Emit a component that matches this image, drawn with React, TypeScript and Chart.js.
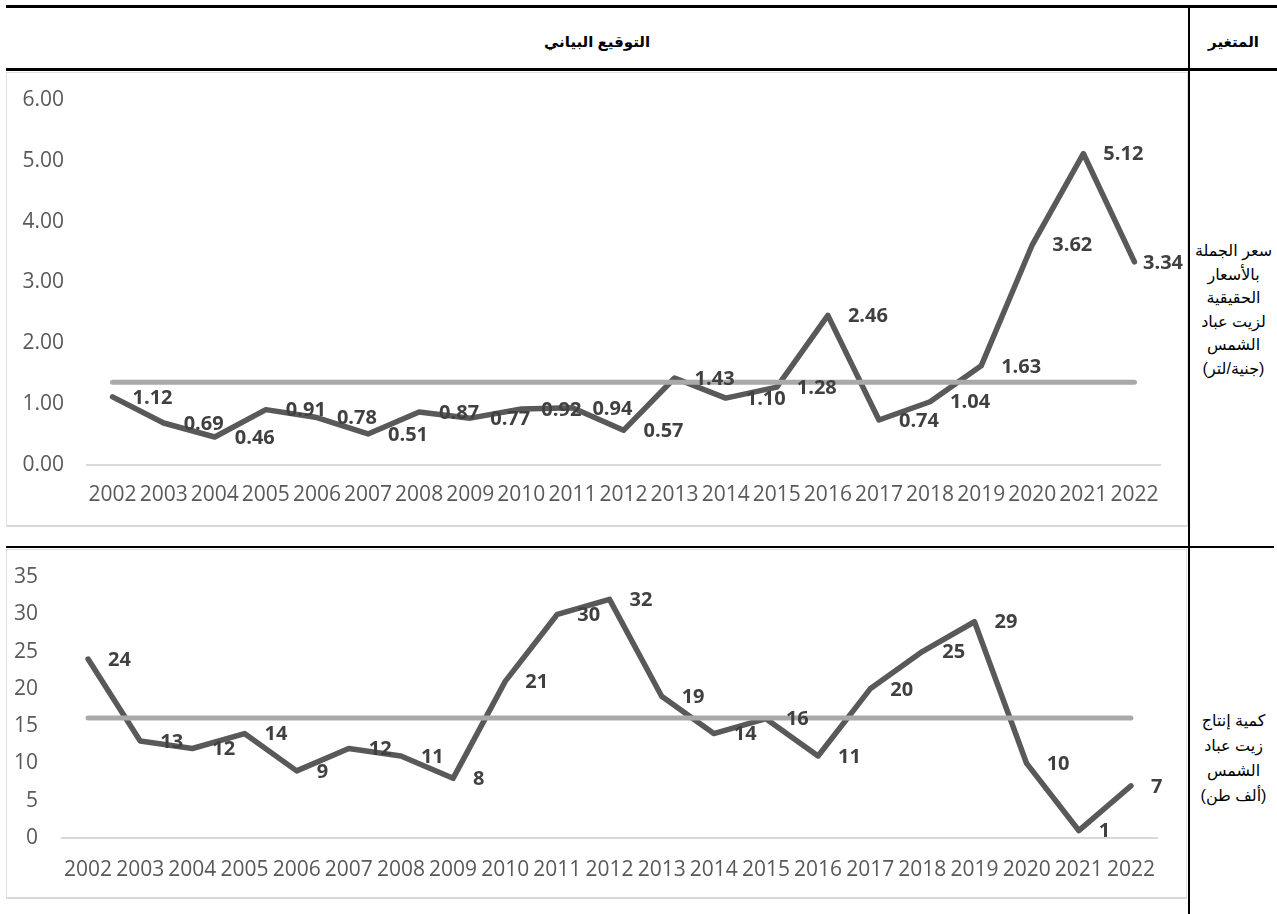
import React, { useEffect, useRef } from 'react';
import { Chart, registerables } from 'chart.js';

Chart.register(...registerables);

const years = ['2002', '2003', '2004', '2005', '2006', '2007', '2008', '2009', '2010', '2011', '2012', '2013', '2014', '2015', '2016', '2017', '2018', '2019', '2020', '2021', '2022'];

const priceValues = [1.12, 0.69, 0.46, 0.91, 0.78, 0.51, 0.87, 0.77, 0.92, 0.94, 0.57, 1.43, 1.10, 1.28, 2.46, 0.74, 1.04, 1.63, 3.62, 5.12, 3.34];
const priceAverage = [1.36, 1.36, 1.36, 1.36, 1.36, 1.36, 1.36, 1.36, 1.36, 1.36, 1.36, 1.36, 1.36, 1.36, 1.36, 1.36, 1.36, 1.36, 1.36, 1.36, 1.36];
const priceTickMin = 0;
const priceTickMax = 6;
const priceTickStep = 1;

const productionValues = [24, 13, 12, 14, 9, 12, 11, 8, 21, 30, 32, 19, 14, 16, 11, 20, 25, 29, 10, 1, 7];
const productionAverage = [16.1, 16.1, 16.1, 16.1, 16.1, 16.1, 16.1, 16.1, 16.1, 16.1, 16.1, 16.1, 16.1, 16.1, 16.1, 16.1, 16.1, 16.1, 16.1, 16.1, 16.1];
const productionTickMin = 0;
const productionTickMax = 35;
const productionTickStep = 5;

const headerChart = 'التوقيع البياني';
const headerVariable = 'المتغير';
const priceVariableLines = ['سعر الجملة', 'بالأسعار', 'الحقيقية', 'لزيت عباد', 'الشمس', '(جنية/لتر)'];
const productionVariableLines = ['كمية إنتاج', 'زيت عباد', 'الشمس', '(ألف طن)'];

const FONT = '"Open Sans", "Liberation Sans", sans-serif';
const AR_FONT = '"Liberation Sans", "DejaVu Sans", Arial, sans-serif';

type ChartProps = {
  left: number;
  top: number;
  width: number;
  height: number;
  values: number[];
  average: number[];
  min: number;
  max: number;
  step: number;
  decimals: number;
  area: { l: number; r: number; t: number; b: number };
  yPad: number;
  xPad: number;
};

function LineChart(p: ChartProps) {
  const ref = useRef<HTMLCanvasElement | null>(null);
  useEffect(() => {
    const canvas = ref.current;
    if (!canvas) return;
    const labelPlugin = {
      id: 'dlabels',
      afterDatasetsDraw(chart: any) {
        const ctx = chart.ctx;
        const meta = chart.getDatasetMeta(0);
        ctx.save();
        ctx.font = 'bold 20px ' + FONT;
        ctx.fillStyle = '#404040';
        ctx.textAlign = 'left';
        ctx.textBaseline = 'middle';
        meta.data.forEach((pt: any, i: number) => {
          const txt = p.values[i].toFixed(p.decimals);
          const w = ctx.measureText(txt).width;
          let x = pt.x + 20;
          if (x + w > chart.width - 5) x = chart.width - 5 - w;
          ctx.fillText(txt, x, pt.y + 1);
        });
        ctx.restore();
      },
    };
    const chart = new Chart(canvas, {
      type: 'line',
      data: {
        labels: years,
        datasets: [
          {
            data: p.values,
            borderColor: '#595959',
            borderWidth: 5.5,
            pointRadius: 0,
            tension: 0,
            borderCapStyle: 'round',
            borderJoinStyle: 'round',
            fill: false,
            order: 1,
          },
          {
            data: p.average,
            borderColor: '#a9a9a9',
            borderWidth: 5,
            pointRadius: 0,
            tension: 0,
            borderCapStyle: 'round',
            fill: false,
            order: 0,
          },
        ],
      },
      options: {
        responsive: false,
        animation: false,
        events: [],
        layout: { padding: { left: 0, right: p.width - p.area.r, top: p.area.t, bottom: 0 } },
        plugins: { legend: { display: false }, tooltip: { enabled: false } },
        scales: {
          x: {
            type: 'category',
            offset: true,
            grid: { display: false, drawTicks: false },
            border: { display: true, color: '#d9d9d9', width: 2 },
            ticks: { color: '#595959', font: { family: FONT, size: 21 }, padding: p.xPad, maxRotation: 0, autoSkip: false },
            afterFit: (s: any) => {
              s.height = p.height - p.area.b;
            },
          },
          y: {
            min: p.min,
            max: p.max,
            grid: {
              display: true,
              drawOnChartArea: false,
              drawTicks: true,
              tickLength: p.yPad,
              color: 'rgba(0,0,0,0)',
              tickColor: 'rgba(0,0,0,0)',
            },
            border: { display: false },
            ticks: {
              stepSize: p.step,
              color: '#595959',
              font: { family: FONT, size: 21 },
              padding: 0,
              callback: (v: any) => Number(v).toFixed(p.decimals),
            },
            afterFit: (s: any) => {
              s.width = p.area.l;
            },
          },
        },
      } as any,
      plugins: [labelPlugin as any],
    });
    return () => chart.destroy();
  }, []);
  return (
    <canvas
      ref={ref}
      width={p.width}
      height={p.height}
      style={{ position: 'absolute', left: p.left, top: p.top, width: p.width, height: p.height }}
    />
  );
}

function HLine({ x, y, w, h, color }: { x: number; y: number; w: number; h: number; color: string }) {
  return <div style={{ position: 'absolute', left: x, top: y, width: w, height: h, background: color }} />;
}

export default function App() {
  return (
    <div style={{ position: 'absolute', left: 0, top: 0, width: 1277, height: 914, overflow: 'hidden', background: '#fff' }}>
      {/* chart boxes */}
      <div style={{ position: 'absolute', left: 6, top: 72, width: 1182, height: 455, boxSizing: 'border-box', border: '1px solid #e0e0e0', borderBottom: '2px solid #d9d9d9' }} />
      <div style={{ position: 'absolute', left: 6, top: 549, width: 1181, height: 350, boxSizing: 'border-box', border: '1px solid #e0e0e0', borderBottom: '2px solid #d9d9d9' }} />
      <LineChart
        left={6}
        top={72}
        width={1182}
        height={455}
        values={priceValues}
        average={priceAverage}
        min={priceTickMin}
        max={priceTickMax}
        step={priceTickStep}
        decimals={2}
        area={{ l: 81, r: 1154, t: 28, b: 393 }}
        yPad={23}
        xPad={17}
      />
      <LineChart
        left={6}
        top={549}
        width={1181}
        height={350}
        values={productionValues}
        average={productionAverage}
        min={productionTickMin}
        max={productionTickMax}
        step={productionTickStep}
        decimals={0}
        area={{ l: 56, r: 1151, t: 28, b: 289 }}
        yPad={24}
        xPad={19}
      />
      {/* table lines */}
      <HLine x={6} y={5} w={1271} h={3} color="#000" />
      <HLine x={6} y={68} w={1271} h={3} color="#000" />
      <HLine x={6} y={546} w={1268} h={2} color="#000" />
      <HLine x={1188} y={5} w={2} h={909} color="#000" />
      {/* header texts */}
      <div dir="rtl" style={{ position: 'absolute', left: 6, top: 28, width: 1182, textAlign: 'center', fontFamily: AR_FONT, fontWeight: 'bold', fontSize: 15, lineHeight: '28px', color: '#000' }}>
        {headerChart}
      </div>
      <div dir="rtl" style={{ position: 'absolute', left: 1190, top: 28, width: 87, textAlign: 'center', fontFamily: AR_FONT, fontWeight: 'bold', fontSize: 15, lineHeight: '28px', color: '#000' }}>
        {headerVariable}
      </div>
      <div dir="rtl" style={{ position: 'absolute', left: 1190, top: 239, width: 87, textAlign: 'center', fontFamily: AR_FONT, fontSize: 16, lineHeight: '23.5px', color: '#000' }}>
        {priceVariableLines.map((t, i) => (
          <div key={i} style={{ whiteSpace: 'nowrap' }}>{t}</div>
        ))}
      </div>
      <div dir="rtl" style={{ position: 'absolute', left: 1190, top: 708, width: 87, textAlign: 'center', fontFamily: AR_FONT, fontSize: 16, lineHeight: '25px', color: '#000' }}>
        {productionVariableLines.map((t, i) => (
          <div key={i} style={{ whiteSpace: 'nowrap' }}>{t}</div>
        ))}
      </div>
    </div>
  );
}
